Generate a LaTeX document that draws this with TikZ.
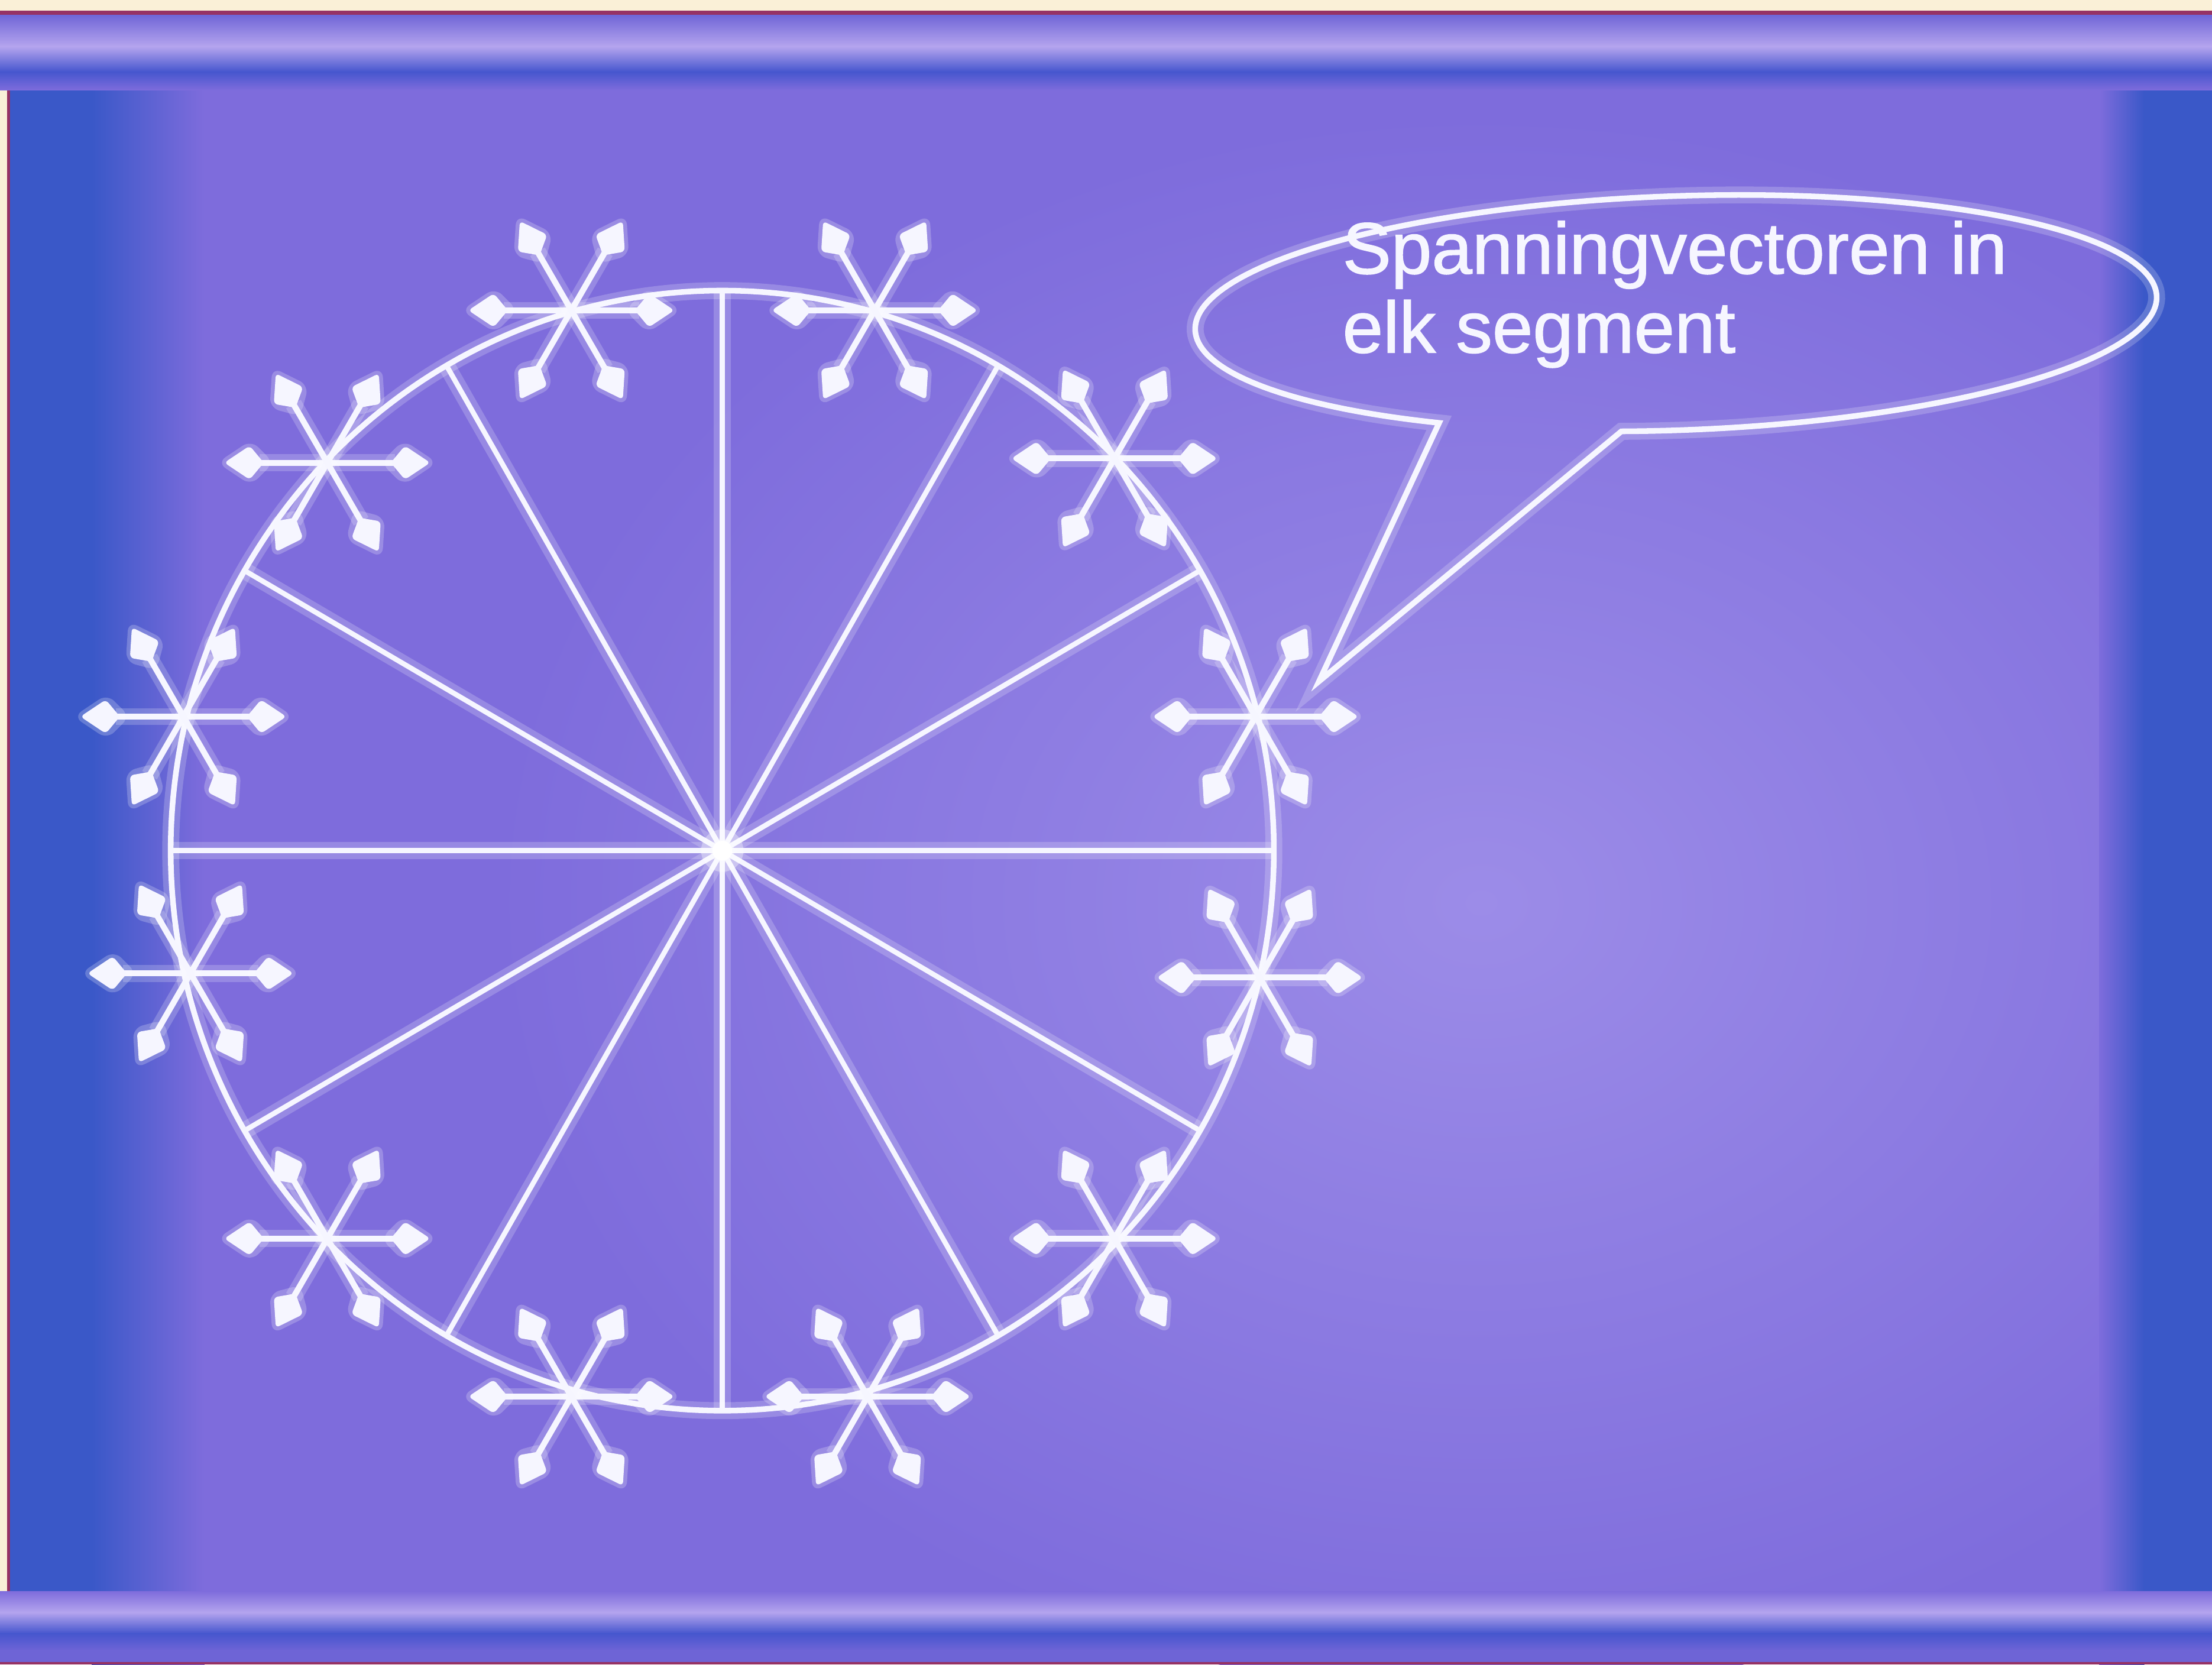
\documentclass[tikz,border=0pt]{standalone}
\usepackage{fontspec}
\setmainfont{Liberation Sans}
\newfontfamily\calloutfont{Liberation Sans}[FakeBold=1.2]
\usetikzlibrary{calc}

\definecolor{bgmain}{RGB}{126,108,220}
\definecolor{bglight}{RGB}{156,140,232}
\definecolor{bgblue}{RGB}{58,88,200}
\definecolor{bandlav}{RGB}{180,164,238}
\definecolor{banddark}{RGB}{70,86,206}
\definecolor{bandmid}{RGB}{110,100,214}
\definecolor{cream}{RGB}{250,240,215}
\definecolor{edgered}{RGB}{150,50,100}
\definecolor{ink}{RGB}{246,246,255}

\tikzset{
  glow/.style={draw=white, line width=1.2mm, opacity=0.2},
  wline/.style={draw=ink, line width=0.36mm, preaction={glow}},
  rimline/.style={draw=ink, line width=0.4mm, preaction={glow}},
  vshaft/.style={draw=ink, line width=0.42mm, preaction={glow}},
  vhead/.style={fill=ink, rounded corners=0.8pt},
  vheadglow/.style={fill=white, opacity=0.22, rounded corners=2pt},
  label/.style={anchor=base west, inner sep=0pt, text=ink,
                font=\calloutfont\fontsize{14.7pt}{17pt}\selectfont}
}

\begin{document}
\begin{tikzpicture}[x=0.1mm,y=-0.1mm]
\useasboundingbox (0,0) rectangle (1568,1180);

% ---------- background ----------
\fill[bgmain] (0,0) rectangle (1568,1180);
\shade[inner color=bglight, outer color=bgmain] (1050,640) ellipse [x radius=700, y radius=560];
% left blue strip
\fill[bgblue] (0,0) rectangle (65,1180);
\shade[left color=bgblue, right color=bgmain] (65,0) rectangle (145,1180);
% right blue strip
\shade[left color=bgmain, right color=bgblue] (1488,0) rectangle (1520,1180);
\fill[bgblue] (1520,0) rectangle (1568,1180);
% left cream edge
\fill[cream] (0,0) rectangle (5,1180);
\fill[edgered] (5,0) rectangle (7,1180);
% top bands
\shade[top color=bandmid, bottom color=bandlav] (0,10) rectangle (1568,33);
\shade[top color=bandlav, bottom color=banddark] (0,33) rectangle (1568,51);
\shade[top color=banddark, bottom color=bgmain] (0,51) rectangle (1568,64);
\fill[cream] (0,0) rectangle (1568,7.5);
\fill[edgered] (0,7.5) rectangle (1568,10.5);
% bottom bands
\shade[top color=bgmain, bottom color=bandlav] (0,1128) rectangle (1568,1143);
\shade[top color=bandlav, bottom color=banddark] (0,1143) rectangle (1568,1158);
\shade[top color=banddark, bottom color=bandmid] (0,1158) rectangle (1568,1170);
\fill[bandmid] (0,1170) rectangle (1568,1178);
\fill[edgered] (0,1178) rectangle (1568,1180);

% ---------- circle with radii ----------
\coordinate (O) at (512,603);
\foreach \a in {0,30,...,330}{
  \draw[wline] (O) -- ($(O)+(\a:391 and 397)$);
}
\draw[rimline] (O) ellipse [x radius=391, y radius=397];
\fill[white, opacity=0.35] (O) circle [radius=15];
\fill[white] (O) circle [radius=7];

% ---------- stress-vector stars ----------
\foreach \n/\px/\py in {s1/405/220, s2/620/220, s3/790/325, s4/890/508,
                        s5/893/693, s6/790/878, s7/615/990, s8/405/990,
                        s9/232/878, s10/135/690, s11/130/508, s12/232/328}{
  \coordinate (\n) at (\px,\py);
  \foreach \b in {0,60,120}{
    \begin{scope}[shift={(\n)}, rotate=\b]
      \draw[vshaft] (-48,0) -- (48,0);
      \fill[vheadglow] (78,0) -- (54,16) -- (38,0) -- (54,-16) -- cycle;
      \fill[vheadglow] (-78,0) -- (-54,16) -- (-38,0) -- (-54,-16) -- cycle;
      \fill[vhead] (73,0) -- (55,12) -- (45,0) -- (55,-12) -- cycle;
      \fill[vhead] (-73,0) -- (-55,12) -- (-45,0) -- (-55,-12) -- cycle;
    \end{scope}
  }
}

% ---------- callout ----------
\coordinate (tip) at (935,483);
\draw[rimline, line join=miter]
  plot[domain=97:-240, samples=240]
    ({1188+341*cos(\x)*cos(-2)-83*sin(\x)*sin(-2)},
     {222+341*cos(\x)*sin(-2)+83*sin(\x)*cos(-2)})
  -- (tip) -- cycle;
\node[label] (t1) at (951,194) {Spanningvectoren in};
\node[label] (t2) at (951,250) {elk segment};
\end{tikzpicture}
\end{document}
